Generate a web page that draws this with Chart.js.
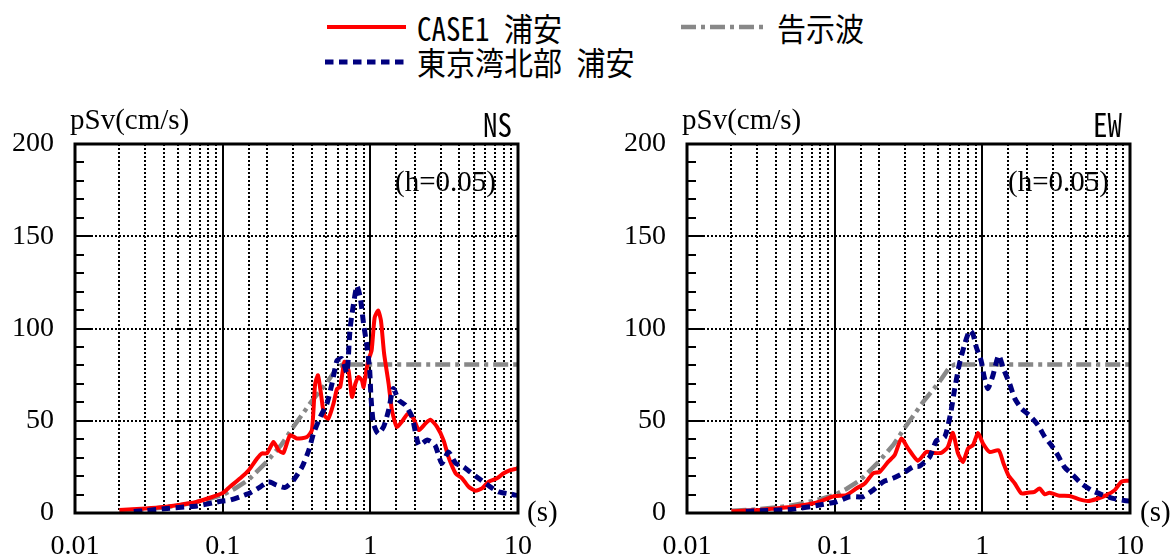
<!DOCTYPE html>
<html>
<head>
<meta charset="utf-8">
<script src="https://cdn.jsdelivr.net/npm/chart.js@4.4.1/dist/chart.umd.min.js"></script>
<style>
  html, body { margin: 0; padding: 0; background: #fff; }
  body { width: 1175px; height: 557px; position: relative; overflow: hidden; }
  canvas { position: absolute; top: 0; }
  .t { position: absolute; white-space: pre; color: #000; }
  .serif { font-family: "Liberation Serif", "Times New Roman", serif; font-size: 29px; line-height: 28px; }
  .goth { font-family: "Noto Sans Mono CJK JP", "Noto Sans CJK JP", sans-serif; font-size: 29px; line-height: 29px; font-weight: 500; transform: scaleY(1.1); transform-origin: 0 50%; }
  svg { position: absolute; left: 0; top: 0; }
</style>
</head>
<body>
<svg width="1175" height="90">
  <line x1="327" y1="27" x2="406" y2="27" stroke="#ff0000" stroke-width="4"/>
  <line x1="681" y1="27" x2="763" y2="27" stroke="#888888" stroke-width="4.5" stroke-dasharray="15 5 4 5"/>
  <line x1="325" y1="62" x2="408" y2="62" stroke="#00007f" stroke-width="5" stroke-dasharray="8.5 5.5"/>
</svg>
<div class="t goth" style="left:417px; top:13px;">CASE1 浦安</div>
<div class="t goth" style="left:777px; top:13px;">告示波</div>
<div class="t goth" style="left:417px; top:47px;">東京湾北部 浦安</div>

<canvas id="ns" width="590" height="557" style="left:0px;"></canvas>
<canvas id="ew" width="575" height="557" style="left:600px;"></canvas>

<div class="t serif" style="left:70px; top:105px;">pSv(cm/s)</div>
<div class="t goth" style="left:483px; top:109px;">NS</div>
<div class="t serif" style="left:395px; top:167px;">(h=0.05)</div>
<div class="t serif" style="left:527px; top:497px;">(s)</div>

<div class="t serif" style="left:682px; top:105px;">pSv(cm/s)</div>
<div class="t goth" style="left:1093px; top:109px;">EW</div>
<div class="t serif" style="left:1008px; top:167px;">(h=0.05)</div>
<div class="t serif" style="left:1140px; top:497px;">(s)</div>

<script>
// ---- data (period in s, pSv in cm/s) ----
const kokujiT  = [0.02, 0.03, 0.04, 0.05, 0.06, 0.08, 0.1, 0.12, 0.15, 0.2, 0.25, 0.3, 0.35, 0.4, 0.5, 0.6, 0.65, 10];
const kokujiSv = [1.2, 2, 3, 4, 5.2, 7.5, 9.8, 13, 18, 28, 37, 46.5, 54, 60.5, 70, 79, 80.5, 80.5];

const nsCaseT  = [0.02, 0.03, 0.04, 0.05, 0.065, 0.08, 0.1, 0.112, 0.135, 0.15, 0.171, 0.184, 0.199, 0.221, 0.239, 0.258, 0.286, 0.318, 0.372, 0.402, 0.423, 0.442, 0.463, 0.487, 0.52, 0.563, 0.595, 0.625, 0.668, 0.712, 0.751, 0.792, 0.832, 0.877, 0.9, 0.94, 0.968, 1.02, 1.07, 1.13, 1.18, 1.24, 1.33, 1.4, 1.51, 1.63, 1.8, 1.96, 2.13, 2.36, 2.55, 2.83, 3.13, 3.38, 3.78, 4.18, 4.63, 5.14, 5.7, 6.31, 7.2, 8.0, 8.87, 9.8, 10];
const nsCaseSv = [1.6, 2.4, 3.2, 4.3, 5.8, 8, 10.8, 14.2, 19.6, 23.2, 29.5, 32.3, 32.3, 38.5, 34, 32.6, 42.2, 40.4, 41.2, 44.9, 70, 74.6, 64.7, 53, 51.2, 59.3, 67.4, 68.3, 82, 77.3, 62.9, 70.1, 73.7, 71.9, 68.3, 77.3, 82.7, 88.1, 106, 109.7, 104.3, 86.3, 70.1, 55.7, 46.7, 49.4, 53.9, 51.2, 44.9, 48.5, 50.6, 46.7, 39.5, 30.4, 21.5, 18.8, 14.2, 12.1, 13.3, 16.9, 18.8, 21.5, 23.2, 24.1, 24.5];

const nsBayT  = [0.025, 0.03, 0.042, 0.055, 0.067, 0.087, 0.1, 0.112, 0.131, 0.154, 0.18, 0.204, 0.233, 0.265, 0.302, 0.345, 0.383, 0.412, 0.458, 0.508, 0.55, 0.595, 0.643, 0.694, 0.731, 0.81, 0.854, 0.9, 0.95, 0.99, 1.01, 1.05, 1.13, 1.23, 1.33, 1.43, 1.56, 1.73, 1.92, 2.13, 2.43, 2.74, 3.05, 3.38, 3.78, 4.28, 4.72, 5.55, 6.49, 7.4, 8.87, 9.6, 10];
const nsBaySv = [0.8, 1.3, 2.5, 3.2, 3.8, 5.6, 6.5, 7, 8.8, 11, 14.2, 16.9, 15.1, 13.9, 17.8, 25, 34, 43, 52, 59.3, 70.1, 82.7, 83.6, 76, 100.7, 123, 117, 102.5, 90, 77.3, 62.9, 48.5, 43, 46.7, 55.7, 67.4, 61.1, 58.4, 52, 36.8, 39.5, 36.8, 26.9, 33.1, 27, 25, 22.3, 18.2, 14.2, 11.5, 10.3, 9.7, 9.5];

const ewCaseT  = [0.02, 0.031, 0.04, 0.052, 0.075, 0.1, 0.12, 0.14, 0.16, 0.182, 0.202, 0.23, 0.255, 0.283, 0.314, 0.366, 0.417, 0.463, 0.527, 0.584, 0.632, 0.684, 0.74, 0.8, 0.865, 0.935, 1.01, 1.12, 1.29, 1.39, 1.5, 1.66, 1.84, 2.03, 2.26, 2.44, 2.65, 2.85, 3.33, 3.9, 4.55, 5.2, 5.93, 6.94, 7.88, 8.73, 9.65, 10];
const ewCaseSv = [1, 1.6, 2.5, 3.4, 5.6, 9.2, 9.7, 13.3, 16, 21.5, 22.3, 27.7, 31.4, 40.4, 35, 28.3, 33.1, 32.6, 32.6, 35.8, 43.4, 32.3, 27.7, 35, 36.8, 43.4, 37.7, 33.1, 34, 26.9, 20.5, 16, 10.6, 11, 11.5, 13.3, 10.1, 11, 9.4, 9.2, 7.4, 6.5, 7.6, 9.7, 12.4, 16.9, 17.5, 17.5];

const ewBayT  = [0.025, 0.035, 0.052, 0.079, 0.103, 0.126, 0.155, 0.182, 0.213, 0.248, 0.29, 0.339, 0.376, 0.44, 0.488, 0.556, 0.61, 0.65, 0.7, 0.76, 0.82, 0.865, 0.91, 0.98, 1.03, 1.09, 1.18, 1.29, 1.39, 1.53, 1.66, 1.84, 2.08, 2.38, 2.65, 2.93, 3.24, 3.59, 4.12, 4.68, 5.47, 6.37, 7.66, 9.4, 10];
const ewBaySv = [1, 1.3, 2, 4.3, 6.1, 8.8, 8.8, 12.4, 16.9, 18.8, 21.5, 25, 25.4, 30.4, 39.1, 41.2, 54, 67.4, 80.9, 91.7, 98.9, 96.8, 89.9, 82.7, 73.7, 67.4, 74.6, 85.4, 78.2, 70.1, 62, 56.6, 53, 47.6, 41.2, 36.8, 31.4, 25, 20.5, 16, 12.4, 10.1, 7.9, 6.6, 6.5];

const xTickLabels = ['0.01', '0.1', '1', '10'];
const yTickLabels = ['0', '50', '100', '150', '200'];

// ---- helpers ----
const pts = (T, V) => T.map((t, i) => ({ x: t, y: V[i] }));
const isDecade = v => Math.abs(Math.log10(v) - Math.round(Math.log10(v))) < 1e-6;

const gridPlugin = {
  id: 'specGrid',
  beforeDatasetsDraw(chart) {
    const { ctx, chartArea: a, scales: { x, y } } = chart;
    ctx.save();
    ctx.strokeStyle = '#000';
    x.ticks.forEach(t => {
      const v = t.value;
      if (v <= x.min * 1.0001 || v >= x.max * 0.9999) return;
      const px = Math.round(x.getPixelForValue(v));
      ctx.beginPath();
      if (isDecade(v)) { ctx.setLineDash([]); ctx.lineWidth = 2; }
      else { ctx.setLineDash([2, 2]); ctx.lineWidth = 2; }
      ctx.moveTo(px, a.top); ctx.lineTo(px, a.bottom); ctx.stroke();
    });
    y.ticks.forEach(t => {
      const v = t.value;
      if (v <= y.min || v >= y.max) return;
      const py = Math.round(y.getPixelForValue(v));
      ctx.beginPath();
      ctx.setLineDash([2, 2]); ctx.lineWidth = 2;
      ctx.moveTo(a.left, py); ctx.lineTo(a.right, py); ctx.stroke();
    });
    ctx.restore();
  },
  afterDatasetsDraw(chart) {
    const { ctx, chartArea: a, scales: { y } } = chart;
    ctx.save();
    ctx.strokeStyle = '#000';
    ctx.setLineDash([]);
    ctx.lineWidth = 2;
    for (let v = y.min + 10; v < y.max; v += 10) {
      const py = Math.round(y.getPixelForValue(v));
      const len = (v % 50 === 0) ? 17 : 9;
      ctx.beginPath(); ctx.moveTo(a.left, py); ctx.lineTo(a.left + len, py); ctx.stroke();
    }
    ctx.lineWidth = 3;
    ctx.strokeRect(a.left, a.top, a.right - a.left, a.bottom - a.top);
    ctx.restore();
  }
};

function makeChart(id, caseData, bayData, yWidth, padRight) {
  const tickFont = { family: '"Liberation Serif", "Times New Roman", serif', size: 28 };
  return new Chart(document.getElementById(id), {
    type: 'line',
    data: {
      datasets: [
        { label: '東京湾北部 浦安', data: bayData, borderColor: '#00007f', borderWidth: 5, borderDash: [8.5, 5.5], pointRadius: 0, tension: 0.2 },
        { label: 'CASE1 浦安', data: caseData, borderColor: '#ff0000', borderWidth: 4, pointRadius: 0, tension: 0.2 },
        { label: '告示波', data: pts(kokujiT, kokujiSv), borderColor: '#888888', borderWidth: 4.5, borderDash: [15, 5, 4, 5], pointRadius: 0, tension: 0 }
      ]
    },
    options: {
      responsive: false,
      animation: false,
      devicePixelRatio: 1,
      layout: { padding: { top: 144, right: padRight, left: 0, bottom: 0 } },
      plugins: { legend: { display: false }, tooltip: { enabled: false } },
      scales: {
        x: {
          type: 'logarithmic', min: 0.01, max: 10,
          grid: { display: false, drawTicks: false }, border: { display: false },
          ticks: {
            autoSkip: false, maxRotation: 0, padding: 17, color: '#000', font: tickFont,
            callback: v => { const l = xTickLabels.find(s => Math.abs(Number(s) - v) < 1e-9); return l === undefined ? '' : l; }
          },
          afterFit: s => { s.height = 44; }
        },
        y: {
          min: 0, max: 200,
          grid: { display: false, drawTicks: false }, border: { display: false },
          ticks: {
            stepSize: 50, padding: 21, color: '#000', font: tickFont,
            callback: v => { const l = yTickLabels.find(s => Number(s) === v); return l === undefined ? '' : l; }
          },
          afterFit: s => { s.width = yWidth; }
        }
      }
    },
    plugins: [gridPlugin]
  });
}

makeChart('ns', pts(nsCaseT, nsCaseSv), pts(nsBayT, nsBaySv), 75, 72);
makeChart('ew', pts(ewCaseT, ewCaseSv), pts(ewBayT, ewBaySv), 87, 45);
</script>
</body>
</html>
